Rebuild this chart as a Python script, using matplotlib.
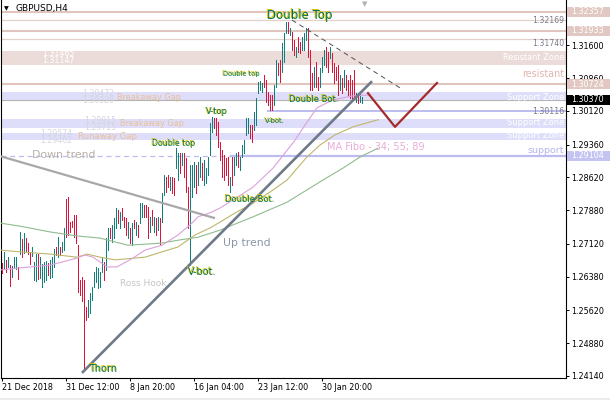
import matplotlib
matplotlib.use("Agg")
import matplotlib.pyplot as plt
import numpy as np
from matplotlib.patches import Rectangle
from matplotlib.transforms import blended_transform_factory, offset_copy

# ---------------- data ----------------
bar_high = [
    1.2669, 1.2694, 1.2676, 1.2682, 1.2664, 1.2662, 1.2682, 1.2682, 1.2660, 1.2739,
    1.2723, 1.2737, 1.2725, 1.2714, 1.2694, 1.2705, 1.2671, 1.2689, 1.2689, 1.2682,
    1.2667, 1.2671, 1.2673, 1.2669, 1.2676, 1.2682, 1.2700, 1.2705, 1.2727, 1.2705,
    1.2716, 1.2748, 1.2813, 1.2818, 1.2761, 1.2764, 1.2777, 1.2777, 1.2709, 1.2631,
    1.2637, 1.2631, 1.2570, 1.2585, 1.2601, 1.2615, 1.2649, 1.2660, 1.2658, 1.2649,
    1.2682,
    1.2671, 1.2725, 1.2748, 1.2748, 1.2755, 1.2770, 1.2793, 1.2788, 1.2784, 1.2793,
    1.2773, 1.2770, 1.2761, 1.2748, 1.2759, 1.2766, 1.2761, 1.2755, 1.2804, 1.2804,
    1.2800, 1.2800, 1.2795, 1.2773, 1.2788, 1.2773, 1.2770, 1.2773, 1.2770, 1.2827,
    1.2867, 1.2863, 1.2867, 1.2863, 1.2863, 1.2861, 1.2928, 1.2917, 1.2917, 1.2917,
    1.2917, 1.2906, 1.2840, 1.2890, 1.2890, 1.2897, 1.2890, 1.2897, 1.2908,
    1.2894, 1.2901, 1.2883, 1.2908, 1.2985, 1.2998, 1.2996, 1.2996, 1.2987, 1.2942,
    1.2924, 1.2912, 1.2906, 1.2908, 1.2863, 1.2908, 1.2908, 1.2917, 1.2919, 1.2908,
    1.2935, 1.2946, 1.2996, 1.2996, 1.2980, 1.2980, 1.3010, 1.3041, 1.3077, 1.3079,
    1.3075, 1.3093, 1.3082, 1.3055, 1.3048, 1.3048, 1.3070, 1.3127, 1.3120, 1.3127,
    1.3165, 1.3188, 1.3213,
    1.3213, 1.3199, 1.3190, 1.3172, 1.3156, 1.3179, 1.3167, 1.3179, 1.3188, 1.3199,
    1.3199, 1.3149, 1.3098, 1.3111, 1.3122, 1.3088, 1.3109, 1.3134, 1.3149, 1.3156,
    1.3145, 1.3156, 1.3143, 1.3120, 1.3111, 1.3116, 1.3093, 1.3086, 1.3104, 1.3093,
    1.3082, 1.3093, 1.3082, 1.3104, 1.3052, 1.3048, 1.3052, 1.3043,
]
bar_low = [
    1.2646, 1.2658, 1.2649, 1.2660, 1.2617, 1.2637, 1.2658, 1.2655, 1.2633, 1.2689,
    1.2682, 1.2691, 1.2696, 1.2689, 1.2667, 1.2685, 1.2631, 1.2628, 1.2633, 1.2635,
    1.2615, 1.2626, 1.2631, 1.2642, 1.2635, 1.2637, 1.2660, 1.2687, 1.2682, 1.2687,
    1.2694, 1.2698, 1.2727, 1.2732, 1.2739, 1.2750, 1.2727, 1.2714, 1.2603, 1.2597,
    1.2583, 1.2428, 1.2540, 1.2547, 1.2556, 1.2585, 1.2615, 1.2626, 1.2612, 1.2615,
    1.2649,
    1.2631, 1.2653, 1.2698, 1.2725, 1.2716, 1.2725, 1.2748, 1.2759, 1.2748, 1.2766,
    1.2750, 1.2732, 1.2725, 1.2714, 1.2709, 1.2748, 1.2732, 1.2727, 1.2759, 1.2773,
    1.2773, 1.2773, 1.2725, 1.2739, 1.2755, 1.2739, 1.2732, 1.2743, 1.2709, 1.2761,
    1.2822, 1.2829, 1.2840, 1.2834, 1.2827, 1.2822, 1.2883, 1.2856, 1.2872, 1.2890,
    1.2863, 1.2829, 1.2748, 1.2664, 1.2818, 1.2840, 1.2827, 1.2845, 1.2863,
    1.2856, 1.2845, 1.2849, 1.2867, 1.2912, 1.2964, 1.2973, 1.2958, 1.2931, 1.2901,
    1.2863, 1.2856, 1.2867, 1.2845, 1.2829, 1.2845, 1.2867, 1.2890, 1.2885, 1.2879,
    1.2908, 1.2917, 1.2958, 1.2962, 1.2951, 1.2942, 1.2969, 1.2980, 1.3052, 1.3059,
    1.3055, 1.3066, 1.3032, 1.3025, 1.3014, 1.3014, 1.3025, 1.3066, 1.3093, 1.3077,
    1.3100, 1.3122, 1.3188,
    1.3188, 1.3183, 1.3149, 1.3138, 1.3134, 1.3145, 1.3143, 1.3149, 1.3149, 1.3172,
    1.3134, 1.3059, 1.3059, 1.3066, 1.3066, 1.3059, 1.3066, 1.3100, 1.3116, 1.3111,
    1.3100, 1.3131, 1.3100, 1.3075, 1.3082, 1.3048, 1.3059, 1.3052, 1.3066, 1.3059,
    1.3048, 1.3041, 1.3037, 1.3041, 1.3032, 1.3030, 1.3032, 1.3030,
]
# u = bullish bar, d = bearish bar
bar_dir = ("dududuuudu" "duddduuudu" "uuuduuudud" "uudddddddd" "ddduuuuuuu" "u"
           "duuduuudud" "ddudududuu" "dddudududu" "uddudduudu" "ddduuuduu"
           "duuuuudddd" "dddduduudu" "uuuudduuuu" "uddddduudd" "uuu"
           "duddudduuu" "dddudduuud" "duddddudud" "dddduduu")

date_tick_bars = [0, 32, 64, 96, 128, 160]
date_labels = ["21 Dec 2018", "31 Dec 12:00", "8 Jan 20:00", "16 Jan 04:00",
               "23 Jan 12:00", "30 Jan 20:00"]
price_ticks = [1.31600, 1.30860, 1.30120, 1.29360, 1.28620, 1.27880,
               1.27120, 1.26380, 1.25620, 1.24880, 1.24140]

ma34_bar = [-1, 9, 24, 37.5, 41.5, 45.5, 52.5, 57.5, 65.5, 71.5, 80, 88, 95, 98, 104,
            109, 115.5, 125.5, 135.5, 141.5, 146.5, 151.5, 157.5, 165.5, 175.5, 184]
ma34_val = [1.2653, 1.2658, 1.2664, 1.2680, 1.2687, 1.2682, 1.2660, 1.2660, 1.2680,
            1.2698, 1.2709, 1.2732, 1.2759, 1.2773, 1.2782, 1.2793, 1.2811, 1.2840,
            1.2883, 1.2917, 1.2946, 1.2980, 1.3019, 1.3037, 1.3046, 1.3048]
ma55_bar = [-1, 9, 24, 37.5, 42.5, 49, 56.5, 71.5, 80, 88, 96.5, 104, 109, 115.5,
            125.5, 134, 142.5, 149, 152.5, 159, 166.5, 175.5, 188]
ma55_val = [1.2698, 1.2694, 1.2689, 1.2682, 1.2689, 1.2682, 1.2676, 1.2682, 1.2694,
            1.2705, 1.2732, 1.2748, 1.2761, 1.2779, 1.2804, 1.2829, 1.2856, 1.2890,
            1.2908, 1.2935, 1.2958, 1.2976, 1.2992]
ma89_bar = [-1, 9, 24, 37.5, 49, 63, 74, 80, 89, 98, 109, 125.5, 142.5, 159, 170.5,
            179, 188]
ma89_val = [1.2759, 1.2752, 1.2739, 1.2730, 1.2725, 1.2709, 1.2712, 1.2714, 1.2721,
            1.2727, 1.2743, 1.2773, 1.2806, 1.2852, 1.2883, 1.2908, 1.2928]

resist_lines_thick = [1.32357, 1.31933, 1.30724]
resist_lines_thin = [1.32169, 1.31740]
resist_zone = (1.31147, 1.31465)
support_zones = [(1.3037, 1.3054), (1.2973, 1.2994), (1.2946, 1.2962)]
current_price = 1.30370
support_line_1 = 1.30116
support_line_1_start = 132.5
support_line_2 = 1.29104
support_line_2_solid_from = 114

down_trend_bar = [-1, 106.5]
down_trend_val = [1.2910, 1.2770]
up_trend_bar = [40, 185]
up_trend_val = [1.2421, 1.3079]
dash_trend_bar = [145, 199]
dash_trend_val = [1.3217, 1.3064]
zigzag_bar = [183, 196.5, 217.5]
zigzag_val = [1.3052, 1.2976, 1.3075]

assert len(bar_high) == len(bar_low) == len(bar_dir)

# ---------------- figure ----------------
W, H = 610, 400
fig = plt.figure(figsize=(W / 100, H / 100), dpi=100)
fig.patch.set_facecolor("white")
AX_L, AX_R, AX_T, AX_B = 1, 565.5, 0, 378
ax = fig.add_axes([AX_L / W, (H - AX_B) / H, (AX_R - AX_L) / W, (AX_B - AX_T) / H])

P0, PPX = 1.32622, 0.0002256


def bx(px):
    return (px - 2) / 2.0


def py(y):
    return P0 - PPX * y


XMIN, XMAX = bx(AX_L), bx(AX_R)
ax.set_xlim(XMIN, XMAX)
ax.set_ylim(py(AX_B), py(AX_T))

# zones
ax.axhspan(resist_zone[0], resist_zone[1], color="#ecdcd9", lw=0, zorder=1)
for lo, hi in support_zones:
    ax.axhspan(lo, hi, color="#dedefa", lw=0, zorder=1)

# horizontal lines
for v in resist_lines_thick:
    ax.axhline(v, color="#e0c4be", lw=1.5, zorder=2)
for v in resist_lines_thin:
    ax.axhline(v, color="#e4d0cb", lw=0.9, zorder=2)
ax.axhline(current_price, color="#b4b4b4", lw=0.8, zorder=2)
ax.hlines(support_line_1, support_line_1_start, XMAX, color="#bcbcf0", lw=1.4, zorder=2)
ax.hlines(support_line_2, XMIN, support_line_2_solid_from, color="#bcbcf0", lw=0.9,
          linestyles=(0, (4, 3)), zorder=2)
ax.hlines(support_line_2, support_line_2_solid_from, XMAX, color="#bcbcf0", lw=1.6, zorder=2)

# bars
xs = np.arange(len(bar_high))
cols = ["#11807c" if d == "u" else "#dc143c" for d in bar_dir]
ax.vlines(xs, bar_low, bar_high, colors=cols, linewidth=0.68, zorder=3, antialiased=False)

# moving averages
ax.plot(ma89_bar, ma89_val, color="#8fbc8f", lw=0.8, zorder=4)
ax.plot(ma55_bar, ma55_val, color="#bdb76b", lw=0.8, zorder=4)
ax.plot(ma34_bar, ma34_val, color="#dda0dd", lw=0.8, zorder=4)

# trendlines
ax.plot(down_trend_bar, down_trend_val, color="#a8a8a8", lw=1.6, zorder=5, solid_capstyle="butt")
ax.plot(up_trend_bar, up_trend_val, color="#6e7a88", lw=1.9, zorder=5, solid_capstyle="butt")
ax.plot(dash_trend_bar, dash_trend_val, color="#505050", lw=0.7, ls=(0, (5, 4)), zorder=5)
ax.plot(zigzag_bar, zigzag_val, color="#a52a2a", lw=1.6, zorder=5)


def label(s, x, y, size, color, ha="left", **kw):
    return ax.text(bx(x), py(y), s, fontsize=size, color=color, ha=ha, va="center",
                   zorder=6, **kw)


def pattern(s, x, y, size):
    tr = offset_copy(ax.transData, fig=fig, x=-0.8, y=0.8, units="dots")
    ax.text(bx(x), py(y), s, transform=tr, fontsize=size, color="#d8c400",
            ha="left", va="center", zorder=6)
    ax.text(bx(x), py(y), s, fontsize=size, color="#00704a", ha="left",
            va="center", zorder=6)


# zone / gap texts
label("1.31465\n1.31147", 42, 57, 5.6, "white", linespacing=0.85)
label("1.30472\n1.30320", 82, 97, 5.6, "#d6d6dc", linespacing=0.85)
label("Breakaway Gap", 117, 97, 5.9, "#eabf96")
label("1.29915\n1.29715", 84, 124, 5.6, "#d6d6dc", linespacing=0.85)
label("Breakaway Gap", 120, 124, 5.9, "#eabf96")
label("1.29574\n1.29462", 40, 137, 5.6, "#d6d6dc", linespacing=0.85)
label("Runaway Gap", 78, 137, 6.1, "#eabf96")

RX = 564
label("1.32169", RX, 21, 5.6, "#7a7a8c", ha="right")
label("1.31740", RX, 44, 5.6, "#7a7a8c", ha="right")
label("Resistant Zone", RX, 57, 5.9, "white", ha="right")
label("resistant", RX, 74, 6.9, "#e0b6ae", ha="right")
label("Support Zone", RX, 97, 6.0, "white", ha="right")
label("1.30116", RX, 111, 5.6, "#7a7a8c", ha="right")
label("Support Zone", RX, 123, 6.0, "white", ha="right")
label("Support Zone", RX, 136, 6.0, "white", ha="right")
label("support", RX, 151, 6.8, "#b4b4f0", ha="right")

# pattern labels
pattern("Double Top", 267, 15, 8.5)
pattern("Double top", 223, 74, 4.8)
pattern("Double top", 152, 143, 5.7)
pattern("V-top", 206, 112, 6.0)
pattern("V-bot.", 265, 121, 4.9)
pattern("Double Bot.", 289, 99, 6.0)
pattern("Double Bot.", 225, 199, 6.0)
pattern("V-bot.", 188, 272, 7.0)
pattern("Thorn", 89, 369, 7.0)

label("Ross Hook", 120, 284, 6.5, "#c4c4c4")
label("Up trend", 223, 243, 7.8, "#8c96aa")
label("Down trend", 32, 155, 7.8, "#b9b0a8")
label("MA Fibo - 34; 55; 89", 327, 147, 7.0, "#e8acd8")

label("\u25bc", 365, 4, 5, "#b0b0b0", ha="center")
label("\u25bc", 6, 9, 4.5, "black", ha="center")
label("GBPUSD,H4", 16, 9, 6.5, "black")

# right-side price boxes
trB = blended_transform_factory(ax.transAxes, ax.transData)
fx = lambda p: (p - AX_L) / (AX_R - AX_L)


def pbox(price, fc, tc):
    h = 10 * PPX
    ax.add_patch(Rectangle((fx(567), price - h / 2), fx(611) - fx(567), h, transform=trB,
                           fc=fc, ec="none", clip_on=False, zorder=7))
    ax.text(fx(571), price, f"{price:.5f}", transform=trB, fontsize=5.8, color=tc,
            ha="left", va="center", clip_on=False, zorder=8)


for v in resist_lines_thick:
    pbox(v, "#e2c8c2", "white")
pbox(current_price, "black", "white")
pbox(support_line_2, "#c4c4f2", "white")

# axes styling
ax.spines["top"].set_visible(False)
for s in ["left", "right", "bottom"]:
    ax.spines[s].set_linewidth(0.8)
    ax.spines[s].set_color("black")
ax.yaxis.tick_right()
ax.set_yticks(price_ticks)
ax.set_yticklabels([f"{v:.5f}" for v in price_ticks])
ax.tick_params(axis="y", direction="out", length=2.2, width=0.7, pad=1.8,
               labelsize=5.8, left=False, labelleft=False)
ax.set_xticks(date_tick_bars)
ax.set_xticklabels(date_labels, ha="left")
ax.tick_params(axis="x", direction="out", length=2.2, width=0.7, pad=1.5, labelsize=5.8)

fig.add_artist(Rectangle((0, 0), 1, 2 / H, transform=fig.transFigure, fc="#ececec",
                         ec="none"))

fig.savefig("out.png", dpi=100)
